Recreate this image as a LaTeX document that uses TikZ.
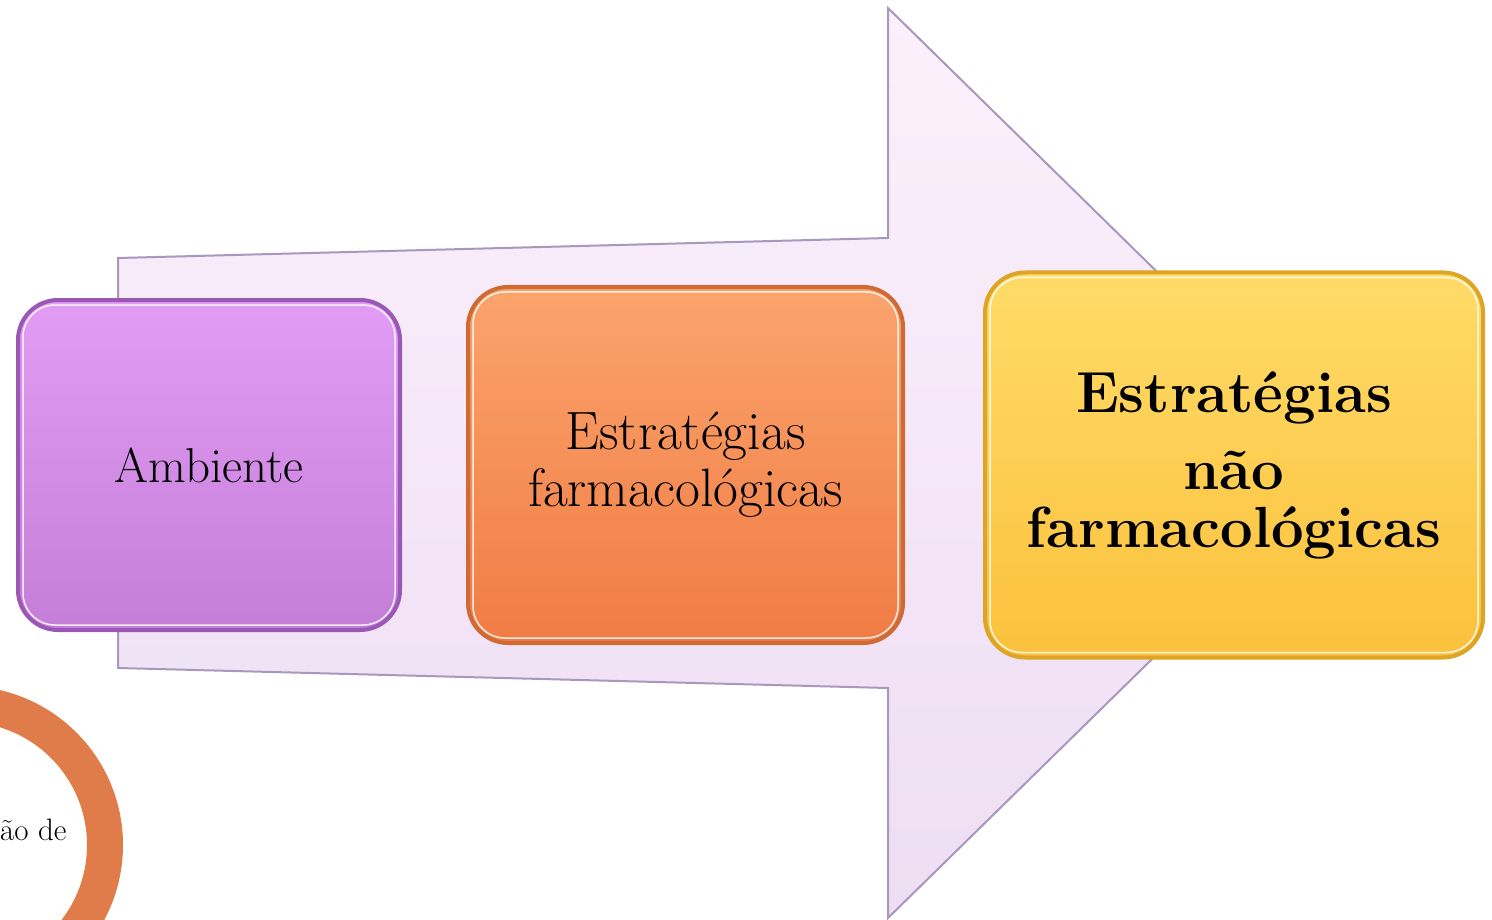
\documentclass[tikz,border=0pt]{standalone}
\usetikzlibrary{positioning}

\definecolor{arrowtop}{HTML}{FCF0FC}
\definecolor{arrowbot}{HTML}{EDDEF3}
\definecolor{arrowedge}{HTML}{A898BC}
\definecolor{purptop}{HTML}{E39CF5}
\definecolor{purpbot}{HTML}{C47ED8}
\definecolor{purpedge}{HTML}{9A58B4}
\definecolor{orantop}{HTML}{FAA46C}
\definecolor{oranbot}{HTML}{F07C44}
\definecolor{oranedge}{HTML}{CF6A34}
\definecolor{yelltop}{HTML}{FFDB68}
\definecolor{yellbot}{HTML}{FBC13C}
\definecolor{yelledge}{HTML}{DDA425}
\definecolor{ring}{HTML}{E07B4A}

\begin{document}
\begin{tikzpicture}[x=1pt, y=-1pt,
    box/.style={rounded corners=40pt, line width=4pt, align=center, inner sep=0pt},
    shine/.style={white, line width=1.5pt, rounded corners=32pt, opacity=.85}]
        \useasboundingbox (0,0) rectangle (1492,920);
        \clip (0,0) rectangle (1492,920);

        % big arrow behind the boxes
        \draw[arrowedge, line width=2pt, top color=arrowtop, bottom color=arrowbot]
            (118,258) -- (888,238) -- (888,8) -- (1352,463)
            -- (888,918) -- (888,688) -- (118,668) -- cycle;

        \node[box, draw=purpedge, top color=purptop, bottom color=purpbot,
              minimum width=382pt, minimum height=330pt,
              font=\fontsize{49}{54}\selectfont] (A) at (209,465) {Ambiente};
        \node[box, draw=oranedge, top color=orantop, bottom color=oranbot,
              minimum width=435pt, minimum height=356pt,
              font=\fontsize{54}{57}\selectfont] (B) [right=64pt of A]
              {Estratégias\\farmacológicas};
        \node[box, draw=yelledge, top color=yelltop, bottom color=yellbot,
              minimum width=498pt, minimum height=385pt,
              font=\fontsize{58}{58}\selectfont\bfseries] (C) [right=78pt of B]
              {Estratégias\\[19pt]não\\farmacológicas};

        \foreach \n in {A,B,C}
            \draw[shine] ([shift={(7,7)}]\n.north west) rectangle ([shift={(-7,-7)}]\n.south east);

        % ring in the corner
        \draw[ring, line width=36pt] (-36,845) circle[radius=141];
        \node[anchor=base west, inner sep=0pt, font=\fontsize{31}{34}\selectfont] (lbl) at (0,840) {ão de};
    \end{tikzpicture}
\end{document}
